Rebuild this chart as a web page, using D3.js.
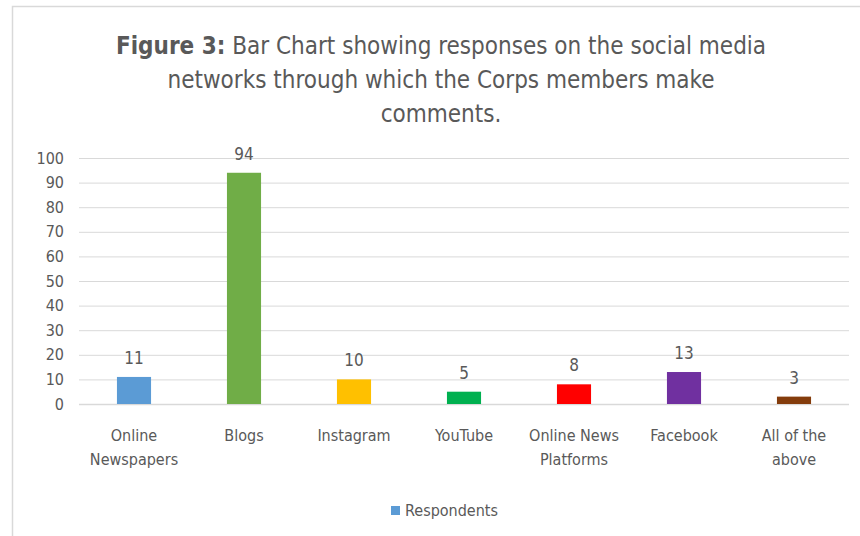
<!DOCTYPE html>
<html>
<head>
<meta charset="utf-8">
<script src="https://cdn.jsdelivr.net/npm/d3@7"></script>
<style>
  body { margin: 0; background: #fff; }
  svg text { font-family: "Liberation Sans Narrow", "DejaVu Sans Condensed", "Open Sans", sans-serif; fill: #595959; }
</style>
</head>
<body>
<div id="chart"></div>
<script>
// Chart data
const categories = ["Online Newspapers", "Blogs", "Instagram", "YouTube", "Online News Platforms", "Facebook", "All of the above"];
const categoryLines = [["Online", "Newspapers"], ["Blogs"], ["Instagram"], ["YouTube"], ["Online News", "Platforms"], ["Facebook"], ["All of the", "above"]];
const respondents = [11, 94, 10, 5, 8, 13, 3];
const barColors = ["#5B9BD5", "#70AD47", "#FFC000", "#00B050", "#FF0000", "#7030A0", "#843C0C"];
const yTicks = [0, 10, 20, 30, 40, 50, 60, 70, 80, 90, 100];
const seriesName = "Respondents";

const W = 860, H = 536;
const margin = { top: 158, right: 11, bottom: 132, left: 79 };
const width = W - margin.left - margin.right;
const height = H - margin.top - margin.bottom;

const root = d3.select("#chart").append("svg")
    .attr("width", W)
    .attr("height", H);

// Chart border
root.append("rect")
    .attr("x", 12.5).attr("y", 6.5)
    .attr("width", W).attr("height", H)
    .attr("fill", "none")
    .attr("stroke", "#d9d9d9")
    .attr("stroke-width", 1.5);

// Title
const title = root.append("text")
    .attr("text-anchor", "middle")
    .style("font-size", "24px");
const titleLines = [
    [{ t: "Figure 3:", b: true }, { t: " Bar Chart showing responses on the social media", b: false }],
    [{ t: "networks through which the Corps members make", b: false }],
    [{ t: "comments.", b: false }]
];
titleLines.forEach((line, i) => {
    const row = title.append("tspan").attr("x", 441).attr("y", 54 + i * 34);
    line.forEach(part => {
        row.append("tspan").text(part.t).style("font-weight", part.b ? "bold" : "normal");
    });
});

const svg = root.append("g")
    .attr("transform", `translate(${margin.left},${margin.top})`);

const x = d3.scaleBand()
    .domain(categories)
    .range([0, width])
    .paddingInner(0.69)
    .paddingOuter(0.345);

const y = d3.scaleLinear()
    .domain([0, 100])
    .range([height, 0]);

// Gridlines
svg.append("g")
    .selectAll("line")
    .data(yTicks)
    .enter()
    .append("line")
    .attr("x1", 0).attr("x2", width)
    .attr("y1", d => y(d) + 0.5).attr("y2", d => y(d) + 0.5)
    .attr("stroke", "#d9d9d9")
    .attr("stroke-width", d => d === 0 ? 1.5 : 1);

// Y axis
const yAxis = svg.append("g")
    .call(d3.axisLeft(y).tickValues(yTicks).tickSize(0).tickPadding(15));
yAxis.select(".domain").remove();
yAxis.selectAll("text").style("font-size", "16px");

// Bars
svg.selectAll(".bar")
    .data(respondents)
    .enter()
    .append("rect")
    .attr("class", "bar")
    .attr("x", (d, i) => x(categories[i]))
    .attr("y", d => y(d))
    .attr("width", x.bandwidth())
    .attr("height", d => height - y(d))
    .attr("fill", (d, i) => barColors[i]);

// Data labels
svg.selectAll(".label")
    .data(respondents)
    .enter()
    .append("text")
    .attr("class", "label")
    .attr("x", (d, i) => x(categories[i]) + x.bandwidth() / 2)
    .attr("y", d => y(d) - 13)
    .attr("text-anchor", "middle")
    .style("font-size", "17px")
    .text(d => d);

// X axis labels
const xLabels = svg.append("g")
    .attr("transform", `translate(0,${height})`);
categoryLines.forEach((lines, i) => {
    const t = xLabels.append("text")
        .attr("text-anchor", "middle")
        .style("font-size", "16px");
    lines.forEach((ln, j) => {
        t.append("tspan")
            .attr("x", x(categories[i]) + x.bandwidth() / 2)
            .attr("y", 37 + j * 24)
            .text(ln);
    });
});

// Legend
const legend = root.append("g").attr("transform", "translate(391,506)");
legend.append("rect")
    .attr("width", 9).attr("height", 9)
    .attr("fill", barColors[0]);
legend.append("text")
    .attr("x", 14).attr("y", 10)
    .style("font-size", "16px")
    .text(seriesName);
</script>
</body>
</html>
